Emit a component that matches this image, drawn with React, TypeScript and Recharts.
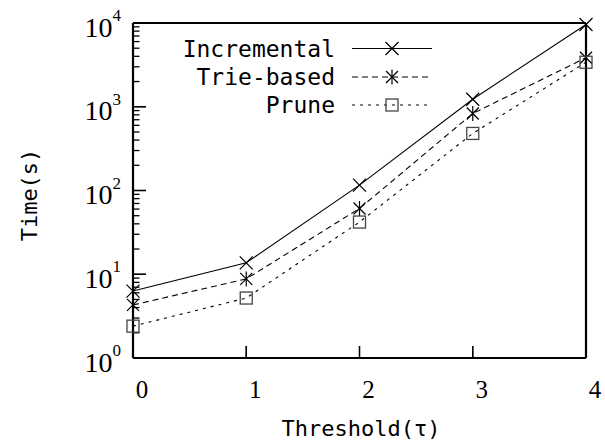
import React from 'react';
import { LineChart, Line, XAxis, YAxis, Customized } from 'recharts';

const thresholds = [0, 1, 2, 3, 4];
const incremental = [6.3, 13.7, 116, 1230, 9600];
const trieBased = [4.3, 8.8, 61, 830, 3850];
const prune = [2.4, 5.2, 42, 480, 3400];
const seriesNames = ['Incremental', 'Trie-based', 'Prune'];
const yMajorTicks = [1, 10, 100, 1000, 10000];
const xTicks = [0, 1, 2, 3, 4];

const yMinorTicks: number[] = [];
yMajorTicks.forEach((m, i) => {
  if (i < yMajorTicks.length - 1) {
    for (let k = 2; k <= 9; k++) yMinorTicks.push(m * k);
  }
});

const data = thresholds.map((t, i) => ({
  t,
  inc: incremental[i],
  trie: trieBased[i],
  prune: prune[i],
}));

const W = 605;
const H = 445;
const MARGIN = { top: 22, right: 18, bottom: 86, left: 132 };
// plot box (margins + 1px axis sizes)
const PL = MARGIN.left + 1;
const PR = W - MARGIN.right - 1;
const PT = MARGIN.top + 1;
const PB = H - MARGIN.bottom - 1;
const X_DOMAIN = [0, 4];
const Y_DOMAIN = [1, 10000];
const xPix = (t: number) => PL + ((t - X_DOMAIN[0]) / (X_DOMAIN[1] - X_DOMAIN[0])) * (PR - PL);
const yPix = (v: number) =>
  PB - ((Math.log10(v) - Math.log10(Y_DOMAIN[0])) / (Math.log10(Y_DOMAIN[1]) - Math.log10(Y_DOMAIN[0]))) * (PB - PT);

const MONO = '"DejaVu Sans Mono", monospace';
const SERIF = '"Liberation Serif", "DejaVu Serif", serif';
const frameLine = { stroke: '#000', strokeWidth: 2.2 };
const tickStroke = { stroke: '#000', strokeWidth: 1.3 };

const CrossMark = ({ cx, cy }: any) => (
  <g stroke="#000" strokeWidth={1.2} fill="none">
    <line x1={cx - 6.5} y1={cy - 6.5} x2={cx + 6.5} y2={cy + 6.5} />
    <line x1={cx - 6.5} y1={cy + 6.5} x2={cx + 6.5} y2={cy - 6.5} />
  </g>
);
const StarMark = ({ cx, cy }: any) => (
  <g stroke="#000" strokeWidth={1.2} fill="none">
    <line x1={cx - 6} y1={cy - 6} x2={cx + 6} y2={cy + 6} />
    <line x1={cx - 6} y1={cy + 6} x2={cx + 6} y2={cy - 6} />
    <line x1={cx} y1={cy - 7.5} x2={cx} y2={cy + 7.5} />
  </g>
);
const SquareMark = ({ cx, cy }: any) => (
  <rect x={cx - 6} y={cy - 6} width={12} height={12} stroke="#444" strokeWidth={1.3} fill="none" />
);

const marks = [CrossMark, StarMark, SquareMark];
const dashes = [undefined, '6 4', '3 5'];

const renderYTick = (props: any) => {
  const { x, y, payload, index } = props;
  const exp = Math.round(Math.log10(payload.value));
  return (
    <g key={`yt-${index}`}>
      <text x={x - 12} y={y + 13.5} textAnchor="end" fontFamily={SERIF} fontSize={28} fill="#000">
        10<tspan fontSize={17} dy={-15.5}>{exp}</tspan>
      </text>
    </g>
  );
};

const renderXTick = (props: any) => {
  const { x, y, payload, index } = props;
  return (
    <g key={`xt-${index}`}>
      <text x={x + 9} y={y + 40} textAnchor="middle" fontFamily={SERIF} fontSize={25} fill="#000">
        {payload.value}
      </text>
    </g>
  );
};

const renderEmpty = (props: any) => <g key={`e-${props.index}`} />;

const TickOverlay = () => (
  <g stroke="#000" strokeWidth={1.3}>
    {yMajorTicks.map((v) => (
      <line key={`ym-${v}`} x1={PL} y1={yPix(v)} x2={PL + 13} y2={yPix(v)} />
    ))}
    {yMinorTicks.map((v) => (
      <line key={`yn-${v}`} x1={PL} y1={yPix(v)} x2={PL + 6.5} y2={yPix(v)} />
    ))}
    {xTicks.map((t) => (
      <line key={`xm-${t}`} x1={xPix(t)} y1={PB} x2={xPix(t)} y2={PB - 12} />
    ))}
  </g>
);

const LegendBox = () => {
  const rows = [48.5, 77, 105];
  return (
    <g>
      {seriesNames.map((name, i) => {
        const Mark = marks[i];
        const y = rows[i];
        return (
          <g key={name}>
            <text x={335} y={y + 8} textAnchor="end" fontFamily={MONO} fontSize={23} fill="#000">
              {name}
            </text>
            <line x1={352} y1={y} x2={432} y2={y} stroke="#000" strokeWidth={1.1} strokeDasharray={dashes[i]} />
            <Mark cx={392} cy={y} />
          </g>
        );
      })}
    </g>
  );
};

const AxisLabels = () => (
  <g>
    <text x={361} y={436} textAnchor="middle" fontFamily={MONO} fontSize={22} fill="#000">
      Threshold(τ)
    </text>
    <text
      x={0}
      y={0}
      transform="translate(37,195) rotate(-90)"
      textAnchor="middle"
      fontFamily={MONO}
      fontSize={22}
      fill="#000"
    >
      Time(s)
    </text>
  </g>
);

export default function App() {
  const keys = ['inc', 'trie', 'prune'];
  return (
    <div style={{ position: 'absolute', left: 0, top: 0, width: W, height: H }}>
      <LineChart width={W} height={H} data={data} margin={MARGIN}>
        <XAxis
          dataKey="t"
          type="number"
          domain={X_DOMAIN}
          ticks={xTicks}
          interval={0}
          height={1}
          tickSize={-12}
          tickMargin={12}
          axisLine={frameLine}
          tickLine={tickStroke}
          tick={renderXTick}
        />
        <XAxis
          xAxisId="top"
          orientation="top"
          dataKey="t"
          type="number"
          domain={X_DOMAIN}
          height={1}
          tickSize={0}
          axisLine={frameLine}
          tickLine={false}
          tick={false}
        />
        <YAxis
          yAxisId="minor"
          scale="log"
          type="number"
          domain={Y_DOMAIN}
          ticks={yMinorTicks}
          interval={0}
          width={0}
          tickSize={-6.5}
          tickMargin={0}
          axisLine={false}
          tickLine={tickStroke}
          tick={renderEmpty}
        />
        <YAxis
          scale="log"
          type="number"
          domain={Y_DOMAIN}
          ticks={yMajorTicks}
          interval={0}
          width={1}
          tickSize={-13}
          tickMargin={13}
          axisLine={frameLine}
          tickLine={tickStroke}
          tick={renderYTick}
        />
        <YAxis
          yAxisId="right"
          orientation="right"
          scale="log"
          type="number"
          domain={Y_DOMAIN}
          width={1}
          tickSize={0}
          axisLine={frameLine}
          tickLine={false}
          tick={false}
        />
        {keys.map((k, i) => {
          const Mark = marks[i];
          return (
            <Line
              key={k}
              dataKey={k}
              name={seriesNames[i]}
              stroke="#000"
              strokeWidth={1.1}
              strokeDasharray={dashes[i]}
              isAnimationActive={false}
              dot={(p: any) => <Mark key={`${k}-${p.index}`} cx={p.cx} cy={p.cy} />}
              activeDot={false}
            />
          );
        })}
        <Customized component={TickOverlay} />
        <Customized component={LegendBox} />
        <Customized component={AxisLabels} />
      </LineChart>
    </div>
  );
}
